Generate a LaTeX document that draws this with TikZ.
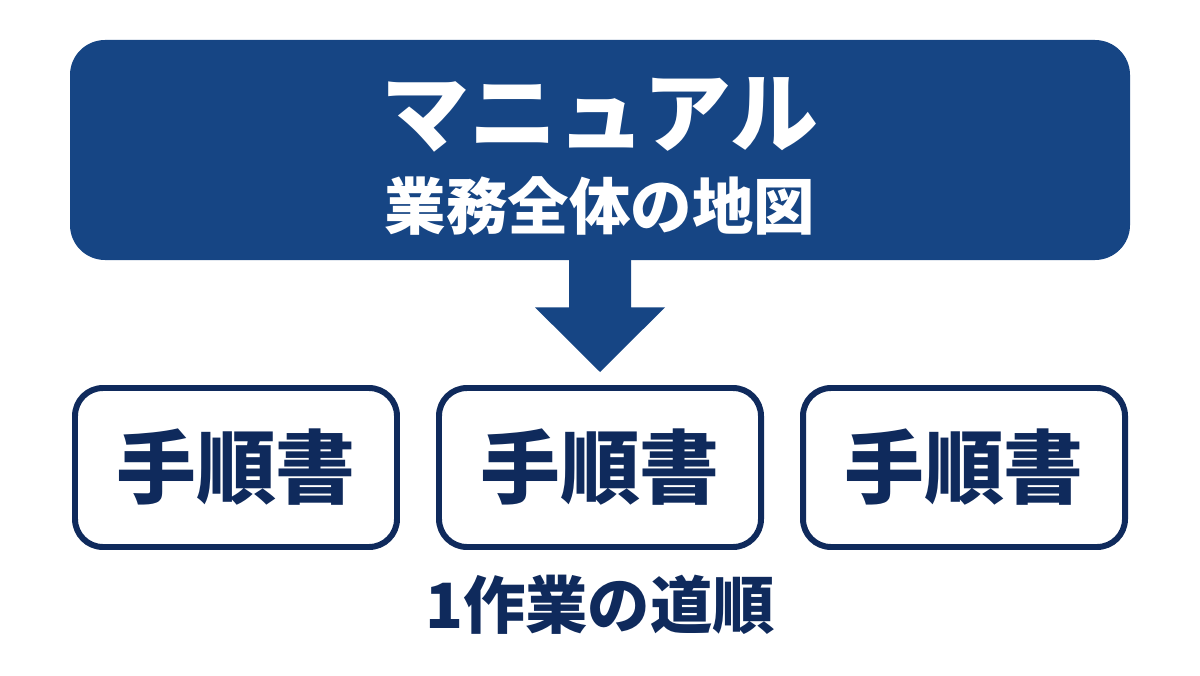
\documentclass[tikz,border=0pt]{standalone}
\usepackage{fontspec}
\usepackage{tikz}
\usepackage{xcolor}
\usetikzlibrary{calc,positioning}
\newfontfamily\cjk{Noto Sans CJK JP}
\definecolor{mapblue}{HTML}{164584}
\definecolor{navy}{HTML}{0F2A5C}

\begin{document}
\begin{tikzpicture}[
    every node/.style={font=\cjk\bfseries},
    mapbox/.style={fill=mapblue, rounded corners=0.7cm,
        minimum width=21.2cm, minimum height=4.4cm},
    stepbox/.style={draw=navy, line width=3.4pt, fill=white, rounded corners=0.56cm,
        minimum width=6.44cm, minimum height=3.18cm, text=navy,
        font=\cjk\bfseries\fontsize{45.5}{48}\selectfont}
]
    \useasboundingbox (0,0) rectangle (24,13.5);

    \node[mapbox] (manual) at (12,10.5) {};
    \node[text=white, font=\cjk\bfseries\fontsize{50}{54}\selectfont] (title) at (12,11.2) {マニュアル};
    \node[text=white, font=\cjk\bfseries\fontsize{35}{38}\selectfont] (subtitle) at (12,9.38) {業務全体の地図};

    % arrow down to the steps
    \coordinate (tip) at (12,6.06);
    \fill[mapblue] ($(manual.south)+(-0.62,0.05)$) -- ($(manual.south)+(0.62,0.05)$)
        -- ++(0,-0.99) -- ++(0.68,0) -- (tip) -- ($(manual.south)+(-1.3,-0.94)$)
        -- ++(0.68,0) -- cycle;

    \node[stepbox] (proc1) at (4.72,4.15) {手順書};
    \node[stepbox] (proc2) at (12,4.15) {手順書};
    \node[stepbox] (proc3) at (19.28,4.15) {手順書};

    \node[text=navy, font=\cjk\bfseries\fontsize{35.5}{38}\selectfont] (caption) at (12,1.4) {1作業の道順};
\end{tikzpicture}
\end{document}
